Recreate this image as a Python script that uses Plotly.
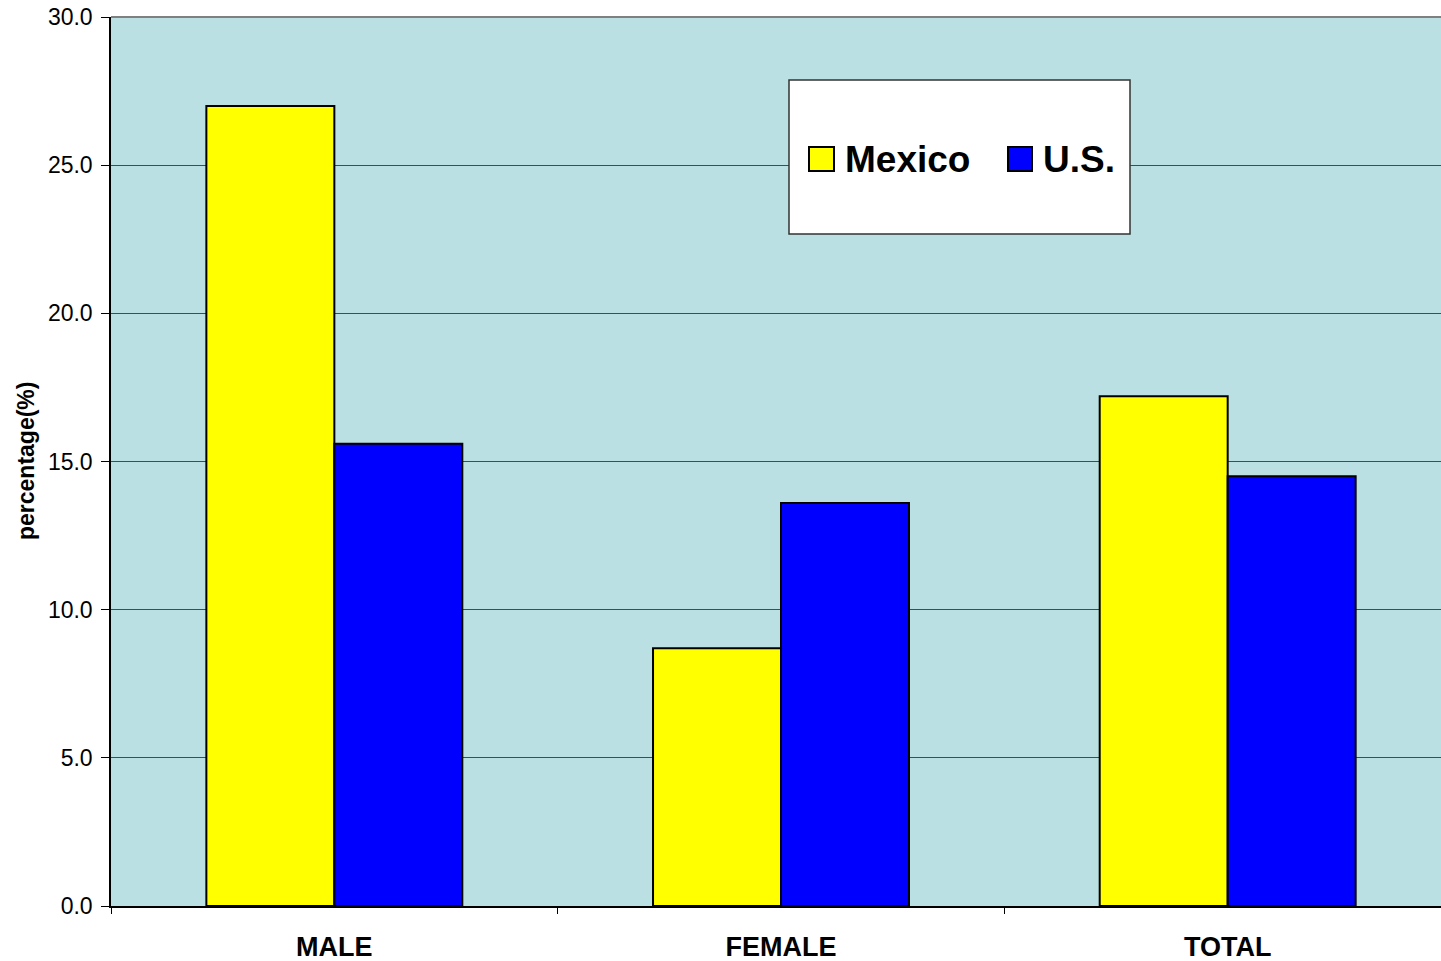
import plotly.graph_objects as go

# Share of population (%) by sex, Mexico vs U.S.
categories = ["MALE", "FEMALE", "TOTAL"]
mexico = [27.0, 8.7, 17.2]
us = [15.6, 13.6, 14.5]
series_names = ["Mexico", "U.S."]
y_ticks = [0, 5, 10, 15, 20, 25, 30]

FONT = "Arial, Liberation Sans, sans-serif"
YELLOW = "#FFFF00"
BLUE = "#0000FF"

fig = go.Figure()
fig.add_trace(go.Bar(x=categories, y=mexico, name=series_names[0],
                     marker=dict(color=YELLOW, line=dict(color="black", width=2)),
                     showlegend=False))
fig.add_trace(go.Bar(x=categories, y=us, name=series_names[1],
                     marker=dict(color=BLUE, line=dict(color="black", width=2)),
                     showlegend=False))

W, H = 1441, 961
L, R, T, B = 111, 0, 17, 55
pw, ph = W - L - R, H - T - B


def px_x(p):
    return (p - L) / pw


def px_y(p):
    return (H - B - p) / ph


# legend box drawn as shapes + text
shapes = [
    dict(type="rect", xref="paper", yref="paper",
         x0=px_x(789), x1=px_x(1130), y0=px_y(234), y1=px_y(80),
         fillcolor="white", line=dict(color="#333333", width=1.5), layer="above"),
    dict(type="rect", xref="paper", yref="paper",
         x0=px_x(809), x1=px_x(834), y0=px_y(171), y1=px_y(147),
         fillcolor=YELLOW, line=dict(color="black", width=2), layer="above"),
    dict(type="rect", xref="paper", yref="paper",
         x0=px_x(1008), x1=px_x(1032), y0=px_y(171), y1=px_y(147),
         fillcolor=BLUE, line=dict(color="black", width=2), layer="above"),
    # top border of the plot area
    dict(type="line", xref="paper", yref="paper", x0=0, x1=1, y0=1, y1=1,
         line=dict(color="#808080", width=2)),
]
annotations = [
    dict(xref="paper", yref="paper", x=px_x(843), y=px_y(159), xanchor="left",
         yanchor="middle", text=series_names[0], showarrow=False,
         font=dict(family=FONT, size=37, color="black", weight="bold")),
    dict(xref="paper", yref="paper", x=px_x(1041), y=px_y(159), xanchor="left",
         yanchor="middle", text=series_names[1], showarrow=False,
         font=dict(family=FONT, size=37, color="black", weight="bold")),
    dict(xref="paper", yref="paper", x=px_x(26), y=px_y(461), xanchor="center",
         yanchor="middle", text="percentage(%)", textangle=-90, showarrow=False,
         font=dict(family=FONT, size=23, color="black", weight="bold")),
]

fig.update_layout(
    width=W, height=H,
    margin=dict(l=L, r=R, t=T, b=B, autoexpand=False),
    paper_bgcolor="white",
    plot_bgcolor="#BAE0E3",
    barmode="group",
    bargap=0.427,
    bargroupgap=0,
    shapes=shapes,
    annotations=annotations,
    xaxis=dict(
        type="category",
        range=[-0.5, -0.5 + pw / 446.67],
        showgrid=False,
        showline=True, linecolor="black", linewidth=1.5,
        ticks="outside", ticklen=6, tickcolor="black", tickwidth=1,
        tickson="boundaries",
        tickfont=dict(family=FONT, size=27, color="black", weight="bold"),
        ticklabelstandoff=16,
        automargin=False,
    ),
    yaxis=dict(
        range=[0, 30],
        tickvals=y_ticks,
        tickformat=".1f",
        showgrid=True, gridcolor="#4A4A4A", gridwidth=1,
        showline=True, linecolor="black", linewidth=1.5,
        ticks="outside", ticklen=8, tickcolor="black", tickwidth=1,
        tickfont=dict(family=FONT, size=23, color="black"),
        ticklabelstandoff=4,
        zeroline=False,
        automargin=False,
    ),
)

fig.write_html("out.html")
